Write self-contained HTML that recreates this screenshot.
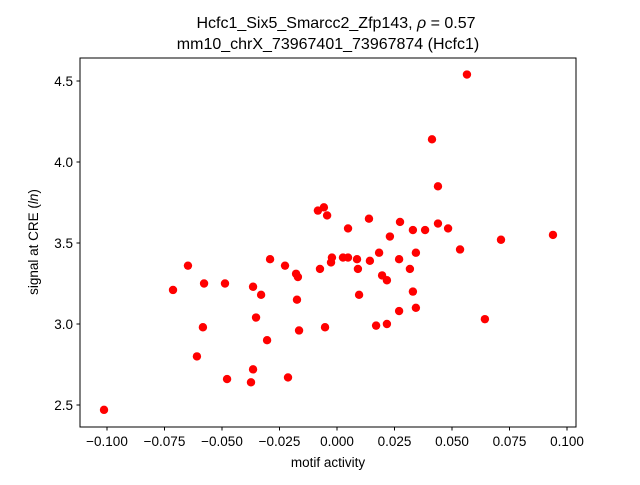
<!DOCTYPE html>
<html><head><meta charset="utf-8"><style>
body{margin:0;background:#fff;}
svg text{font-family:"Liberation Sans","DejaVu Sans",sans-serif;fill:#000;}
</style></head><body>
<svg id="chart" width="640" height="480" xmlns="http://www.w3.org/2000/svg">
<rect width="640" height="480" fill="#fff"/>
<text x="336" y="28" text-anchor="middle" font-size="16">Hcfc1_Six5_Smarcc2_Zfp143, <tspan font-style="italic">ρ</tspan> = 0.57</text>
<text x="328" y="49" text-anchor="middle" font-size="16">mm10_chrX_73967401_73967874 (Hcfc1)</text>
<g id="plot"></g>
<rect x="80" y="58" width="496" height="369" fill="none" stroke="#000" stroke-width="1"/>
<text x="328" y="467" text-anchor="middle" font-size="13.5">motif activity</text>
<text transform="translate(38,242) rotate(-90)" text-anchor="middle" font-size="13.5">signal at CRE (<tspan font-style="italic">ln</tspan>)</text>
</svg>
<script>
const xVals=[-0.1013,-0.0713,-0.0648,-0.0578,-0.0583,-0.0609,-0.0487,-0.0478,-0.0365,-0.0374,-0.0365,-0.0352,-0.0330,-0.0304,-0.0291,-0.0226,-0.0213,-0.0178,-0.0170,-0.0174,-0.0165,-0.0083,-0.0074,-0.0057,-0.0043,-0.0052,-0.0026,-0.0022,0.0026,0.0048,0.0048,0.0087,0.0091,0.0096,0.0139,0.0143,0.0170,0.0183,0.0196,0.0217,0.0217,0.0230,0.0270,0.0274,0.0270,0.0317,0.0330,0.0330,0.0343,0.0343,0.0383,0.0413,0.0439,0.0439,0.0483,0.0535,0.0565,0.0643,0.0713,0.0939];
const yVals=[2.47,3.21,3.36,3.25,2.98,2.80,3.25,2.66,3.23,2.64,2.72,3.04,3.18,2.90,3.40,3.36,2.67,3.31,3.29,3.15,2.96,3.70,3.34,3.72,3.67,2.98,3.38,3.41,3.41,3.41,3.59,3.40,3.34,3.18,3.65,3.39,2.99,3.44,3.30,3.27,3.00,3.54,3.40,3.63,3.08,3.34,3.58,3.20,3.44,3.10,3.58,4.14,3.85,3.62,3.59,3.46,4.54,3.03,3.52,3.55];
const xTicks=[-0.1,-0.075,-0.05,-0.025,0,0.025,0.05,0.075,0.1];
const xTickLabels=["−0.100","−0.075","−0.050","−0.025","0.000","0.025","0.050","0.075","0.100"];
const yTicks=[2.5,3.0,3.5,4.0,4.5];
const yTickLabels=["2.5","3.0","3.5","4.0","4.5"];
const NS="http://www.w3.org/2000/svg";
const sx=v=>337+v*2300;
const sy=v=>405-(v-2.5)*162;
const g=document.getElementById('plot');
function mk(t,a){const e=document.createElementNS(NS,t);for(const k in a)e.setAttribute(k,a[k]);g.appendChild(e);return e;}
xTicks.forEach((t,i)=>{
  const l=mk('line',{x1:sx(t),x2:sx(t),y1:427,y2:430.5,stroke:'#000'});
  
  
  const tx=mk('text',{x:sx(t),y:446,'text-anchor':'middle','font-size':'13.5'});
  tx.textContent=xTickLabels[i];
  
  
});
yTicks.forEach((t,i)=>{
  const l=mk('line',{x1:76.5,x2:80,y1:sy(t),y2:sy(t),stroke:'#000'});
  
  
  const tx=mk('text',{x:73,y:sy(t)+5,'text-anchor':'end','font-size':'13.5'});
  tx.textContent=yTickLabels[i];
  
  
});
xVals.forEach((v,i)=>{
  const c=mk('circle',{cx:sx(v),cy:sy(yVals[i]),r:4.2,fill:'#ff0000'});
  
  
});
</script>
</body></html>
